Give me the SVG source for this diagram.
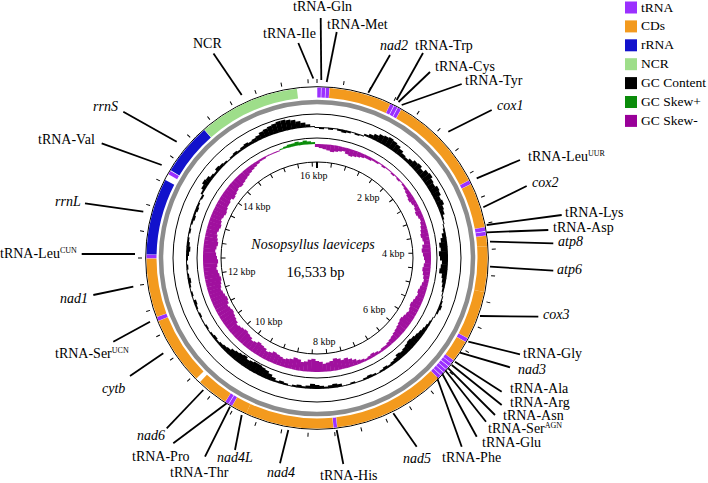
<svg xmlns="http://www.w3.org/2000/svg" xmlns:xlink="http://www.w3.org/1999/xlink" width="708" height="483" viewBox="0 0 708 483">
<style>
text{font-family:"Liberation Serif","Times New Roman",serif;font-size:14px;fill:#000}
text.i{font-style:italic}
.sup{font-size:8px}
text.kb{font-size:10px}
.a{fill:none;stroke-width:10}
.t{stroke:#9b30ff}.c{stroke:#f39a1e}.r{stroke:#1212cc}.n{stroke:#9ede8a}
.ln{stroke:#000;stroke-width:1.8;fill:none}
.ring{fill:none;stroke:#000;stroke-width:1}
</style>
<defs>
<path id="tk" d="M0-96v4.5M0-175v-4"/>
</defs>
<rect width="708" height="483" fill="#fff"/>

<g id="rings">
<circle class="ring" cx="317" cy="258" r="171.3"/>
<circle cx="317" cy="258" r="156" fill="none" stroke="#8c8c8c" stroke-width="4.5"/>
<circle class="ring" cx="317" cy="258" r="144"/>
<circle class="ring" cx="317" cy="258" r="120"/>
<circle class="ring" cx="317" cy="258" r="96"/>
</g>

<g id="gc-content" transform="translate(317 258)" stroke="#000" stroke-width="5" fill="none">
<path transform="rotate(0)" d="M0-131v1"/><path transform="rotate(2)" d="M0-131v2"/><path transform="rotate(4)" d="M0-131v1"/><path transform="rotate(6)" d="M0-131v2"/><path transform="rotate(8)" d="M0-131v1"/>
<path transform="rotate(10)" d="M0-131v2"/><path transform="rotate(12)" d="M0-131v3"/><path transform="rotate(14)" d="M0-131v2"/><path transform="rotate(16)" d="M0-131v1"/><path transform="rotate(18)" d="M0-131v2"/><path transform="rotate(20)" d="M0-131v1"/>
<path transform="rotate(22)" d="M0-131v-2"/><path transform="rotate(24)" d="M0-131v-4"/><path transform="rotate(26)" d="M0-131v-6"/><path transform="rotate(28)" d="M0-131v-8"/><path transform="rotate(30)" d="M0-131v-9"/><path transform="rotate(32)" d="M0-131v-10"/><path transform="rotate(34)" d="M0-131v-9"/><path transform="rotate(36)" d="M0-131v-8"/><path transform="rotate(38)" d="M0-131v-6"/><path transform="rotate(40)" d="M0-131v-4"/><path transform="rotate(42)" d="M0-131v-3"/>
<path transform="rotate(44)" d="M0-131v-5"/><path transform="rotate(46)" d="M0-131v-7"/><path transform="rotate(48)" d="M0-131v-8"/><path transform="rotate(50)" d="M0-131v-6"/><path transform="rotate(52)" d="M0-131v-9"/><path transform="rotate(54)" d="M0-131v-10"/><path transform="rotate(56)" d="M0-131v-8"/><path transform="rotate(58)" d="M0-131v-7"/><path transform="rotate(60)" d="M0-131v-9"/><path transform="rotate(62)" d="M0-131v-8"/><path transform="rotate(64)" d="M0-131v-6"/><path transform="rotate(66)" d="M0-131v-7"/><path transform="rotate(68)" d="M0-131v-5"/><path transform="rotate(70)" d="M0-131v-4"/>
<path transform="rotate(72)" d="M0-131v-2"/><path transform="rotate(74)" d="M0-131v-1"/><path transform="rotate(76)" d="M0-131v1"/><path transform="rotate(78)" d="M0-131v2"/>
<path transform="rotate(80)" d="M0-131v4"/><path transform="rotate(82)" d="M0-131v6"/><path transform="rotate(84)" d="M0-131v8"/><path transform="rotate(86)" d="M0-131v7"/><path transform="rotate(88)" d="M0-131v9"/><path transform="rotate(90)" d="M0-131v8"/><path transform="rotate(92)" d="M0-131v6"/><path transform="rotate(94)" d="M0-131v7"/><path transform="rotate(96)" d="M0-131v8"/><path transform="rotate(98)" d="M0-131v5"/><path transform="rotate(100)" d="M0-131v4"/><path transform="rotate(102)" d="M0-131v3"/><path transform="rotate(104)" d="M0-131v2"/>
<path transform="rotate(106)" d="M0-131v1"/><path transform="rotate(108)" d="M0-131v-1"/><path transform="rotate(110)" d="M0-131v-2"/><path transform="rotate(112)" d="M0-131v-3"/><path transform="rotate(114)" d="M0-131v-2"/><path transform="rotate(116)" d="M0-131v-1"/><path transform="rotate(118)" d="M0-131v1"/><path transform="rotate(120)" d="M0-131v2"/><path transform="rotate(122)" d="M0-131v3"/><path transform="rotate(124)" d="M0-131v4"/>
<path transform="rotate(126)" d="M0-131v5"/><path transform="rotate(128)" d="M0-131v6"/><path transform="rotate(130)" d="M0-131v7"/><path transform="rotate(132)" d="M0-131v8"/><path transform="rotate(134)" d="M0-131v7"/><path transform="rotate(136)" d="M0-131v6"/><path transform="rotate(138)" d="M0-131v5"/><path transform="rotate(140)" d="M0-131v6"/><path transform="rotate(142)" d="M0-131v4"/><path transform="rotate(144)" d="M0-131v3"/>
<path transform="rotate(146)" d="M0-131v2"/><path transform="rotate(148)" d="M0-131v3"/><path transform="rotate(150)" d="M0-131v2"/><path transform="rotate(152)" d="M0-131v1"/><path transform="rotate(154)" d="M0-131v2"/><path transform="rotate(156)" d="M0-131v3"/><path transform="rotate(158)" d="M0-131v2"/><path transform="rotate(160)" d="M0-131v1"/><path transform="rotate(162)" d="M0-131v1"/><path transform="rotate(164)" d="M0-131v2"/><path transform="rotate(166)" d="M0-131v1"/><path transform="rotate(168)" d="M0-131v1"/>
<path transform="rotate(170)" d="M0-131v3"/><path transform="rotate(172)" d="M0-131v4"/><path transform="rotate(174)" d="M0-131v3"/><path transform="rotate(176)" d="M0-131v2"/><path transform="rotate(178)" d="M0-131v3"/><path transform="rotate(180)" d="M0-131v4"/><path transform="rotate(182)" d="M0-131v5"/><path transform="rotate(184)" d="M0-131v3"/><path transform="rotate(186)" d="M0-131v2"/><path transform="rotate(188)" d="M0-131v3"/><path transform="rotate(190)" d="M0-131v2"/><path transform="rotate(192)" d="M0-131v1"/><path transform="rotate(194)" d="M0-131v2"/><path transform="rotate(196)" d="M0-131v3"/><path transform="rotate(198)" d="M0-131v2"/>
<path transform="rotate(200)" d="M0-131v4"/><path transform="rotate(202)" d="M0-131v6"/><path transform="rotate(204)" d="M0-131v8"/><path transform="rotate(206)" d="M0-131v9"/><path transform="rotate(208)" d="M0-131v10"/><path transform="rotate(210)" d="M0-131v10"/><path transform="rotate(212)" d="M0-131v9"/><path transform="rotate(214)" d="M0-131v8"/><path transform="rotate(216)" d="M0-131v10"/><path transform="rotate(218)" d="M0-131v9"/><path transform="rotate(220)" d="M0-131v8"/><path transform="rotate(222)" d="M0-131v7"/><path transform="rotate(224)" d="M0-131v5"/><path transform="rotate(226)" d="M0-131v4"/><path transform="rotate(228)" d="M0-131v3"/><path transform="rotate(230)" d="M0-131v2"/><path transform="rotate(232)" d="M0-131v3"/><path transform="rotate(234)" d="M0-131v2"/><path transform="rotate(236)" d="M0-131v1"/><path transform="rotate(238)" d="M0-131v2"/><path transform="rotate(240)" d="M0-131v1"/>
<path transform="rotate(242)" d="M0-131v1"/><path transform="rotate(244)" d="M0-131v2"/><path transform="rotate(246)" d="M0-131v1"/><path transform="rotate(248)" d="M0-131v2"/><path transform="rotate(250)" d="M0-131v3"/><path transform="rotate(252)" d="M0-131v1"/><path transform="rotate(254)" d="M0-131v2"/><path transform="rotate(256)" d="M0-131v1"/><path transform="rotate(258)" d="M0-131v2"/><path transform="rotate(260)" d="M0-131v3"/><path transform="rotate(262)" d="M0-131v2"/><path transform="rotate(264)" d="M0-131v1"/><path transform="rotate(266)" d="M0-131v2"/><path transform="rotate(268)" d="M0-131v1"/><path transform="rotate(270)" d="M0-131v2"/><path transform="rotate(272)" d="M0-131v3"/><path transform="rotate(274)" d="M0-131v4"/><path transform="rotate(276)" d="M0-131v3"/><path transform="rotate(278)" d="M0-131v2"/><path transform="rotate(280)" d="M0-131v1"/><path transform="rotate(282)" d="M0-131v2"/><path transform="rotate(284)" d="M0-131v1"/><path transform="rotate(286)" d="M0-131v2"/><path transform="rotate(288)" d="M0-131v3"/><path transform="rotate(290)" d="M0-131v2"/><path transform="rotate(292)" d="M0-131v3"/><path transform="rotate(294)" d="M0-131v2"/><path transform="rotate(296)" d="M0-131v1"/><path transform="rotate(298)" d="M0-131v2"/>
<path transform="rotate(300)" d="M0-131v-2"/><path transform="rotate(302)" d="M0-131v-4"/><path transform="rotate(304)" d="M0-131v-6"/><path transform="rotate(306)" d="M0-131v-5"/><path transform="rotate(308)" d="M0-131v-3"/><path transform="rotate(310)" d="M0-131v-2"/><path transform="rotate(312)" d="M0-131v-4"/><path transform="rotate(314)" d="M0-131v-3"/><path transform="rotate(316)" d="M0-131v-2"/><path transform="rotate(318)" d="M0-131v-1"/>
<path transform="rotate(320)" d="M0-131v-2"/><path transform="rotate(322)" d="M0-131v-3"/><path transform="rotate(324)" d="M0-131v-2"/><path transform="rotate(326)" d="M0-131v-3"/><path transform="rotate(328)" d="M0-131v-4"/><path transform="rotate(330)" d="M0-131v-3"/><path transform="rotate(332)" d="M0-131v-4"/><path transform="rotate(334)" d="M0-131v-5"/><path transform="rotate(336)" d="M0-131v-7"/><path transform="rotate(338)" d="M0-131v-8"/><path transform="rotate(340)" d="M0-131v-9"/><path transform="rotate(342)" d="M0-131v-10"/><path transform="rotate(344)" d="M0-131v-11"/><path transform="rotate(346)" d="M0-131v-11"/><path transform="rotate(348)" d="M0-131v-10"/><path transform="rotate(350)" d="M0-131v-9"/><path transform="rotate(352)" d="M0-131v-7"/><path transform="rotate(354)" d="M0-131v-5"/><path transform="rotate(356)" d="M0-131v-3"/><path transform="rotate(358)" d="M0-131v-1"/>
</g>

<g id="gc-skew-minus" transform="translate(317 258)" stroke="#a0109e" stroke-width="4.2" fill="none">
<path transform="rotate(0)" d="M0-114v3"/><path transform="rotate(2)" d="M0-114v4"/><path transform="rotate(4)" d="M0-114v5"/><path transform="rotate(6)" d="M0-114v6"/><path transform="rotate(8)" d="M0-114v7"/><path transform="rotate(10)" d="M0-114v6"/><path transform="rotate(12)" d="M0-114v5"/><path transform="rotate(14)" d="M0-114v4"/><path transform="rotate(16)" d="M0-114v6"/><path transform="rotate(18)" d="M0-114v7"/><path transform="rotate(20)" d="M0-114v6"/><path transform="rotate(22)" d="M0-114v5"/><path transform="rotate(24)" d="M0-114v4"/><path transform="rotate(26)" d="M0-114v3"/><path transform="rotate(28)" d="M0-114v3"/><path transform="rotate(30)" d="M0-114v2"/>
<path transform="rotate(32)" d="M0-114v2"/><path transform="rotate(34)" d="M0-114v1"/><path transform="rotate(36)" d="M0-114v2"/><path transform="rotate(38)" d="M0-114v1"/><path transform="rotate(40)" d="M0-114v1"/><path transform="rotate(42)" d="M0-114v2"/><path transform="rotate(44)" d="M0-114v1"/><path transform="rotate(46)" d="M0-114v2"/><path transform="rotate(48)" d="M0-114v1"/><path transform="rotate(50)" d="M0-114v2"/>
<path transform="rotate(52)" d="M0-114v3"/><path transform="rotate(54)" d="M0-114v4"/><path transform="rotate(56)" d="M0-114v5"/><path transform="rotate(58)" d="M0-114v6"/><path transform="rotate(60)" d="M0-114v5"/><path transform="rotate(62)" d="M0-114v4"/><path transform="rotate(64)" d="M0-114v5"/><path transform="rotate(66)" d="M0-114v6"/><path transform="rotate(68)" d="M0-114v5"/><path transform="rotate(70)" d="M0-114v4"/>
<path transform="rotate(72)" d="M0-114v5"/><path transform="rotate(74)" d="M0-114v6"/><path transform="rotate(76)" d="M0-114v7"/><path transform="rotate(78)" d="M0-114v8"/><path transform="rotate(80)" d="M0-114v7"/><path transform="rotate(82)" d="M0-114v6"/><path transform="rotate(84)" d="M0-114v8"/><path transform="rotate(86)" d="M0-114v9"/><path transform="rotate(88)" d="M0-114v8"/><path transform="rotate(90)" d="M0-114v7"/><path transform="rotate(92)" d="M0-114v6"/><path transform="rotate(94)" d="M0-114v7"/><path transform="rotate(96)" d="M0-114v8"/><path transform="rotate(98)" d="M0-114v7"/><path transform="rotate(100)" d="M0-114v6"/><path transform="rotate(102)" d="M0-114v5"/><path transform="rotate(104)" d="M0-114v6"/><path transform="rotate(106)" d="M0-114v7"/><path transform="rotate(108)" d="M0-114v8"/><path transform="rotate(110)" d="M0-114v7"/>
<path transform="rotate(112)" d="M0-114v8"/><path transform="rotate(114)" d="M0-114v9"/><path transform="rotate(116)" d="M0-114v10"/><path transform="rotate(118)" d="M0-114v9"/><path transform="rotate(120)" d="M0-114v8"/><path transform="rotate(122)" d="M0-114v9"/><path transform="rotate(124)" d="M0-114v10"/><path transform="rotate(126)" d="M0-114v11"/><path transform="rotate(128)" d="M0-114v10"/><path transform="rotate(130)" d="M0-114v9"/><path transform="rotate(132)" d="M0-114v8"/><path transform="rotate(134)" d="M0-114v7"/><path transform="rotate(136)" d="M0-114v6"/><path transform="rotate(138)" d="M0-114v5"/><path transform="rotate(140)" d="M0-114v4"/><path transform="rotate(142)" d="M0-114v3"/>
<path transform="rotate(144)" d="M0-114v3"/><path transform="rotate(146)" d="M0-114v2"/><path transform="rotate(148)" d="M0-114v3"/><path transform="rotate(150)" d="M0-114v4"/><path transform="rotate(152)" d="M0-114v3"/><path transform="rotate(154)" d="M0-114v2"/><path transform="rotate(156)" d="M0-114v3"/><path transform="rotate(158)" d="M0-114v4"/>
<path transform="rotate(160)" d="M0-114v6"/><path transform="rotate(162)" d="M0-114v8"/><path transform="rotate(164)" d="M0-114v10"/><path transform="rotate(166)" d="M0-114v9"/><path transform="rotate(168)" d="M0-114v11"/><path transform="rotate(170)" d="M0-114v12"/><path transform="rotate(172)" d="M0-114v10"/><path transform="rotate(174)" d="M0-114v9"/><path transform="rotate(176)" d="M0-114v8"/><path transform="rotate(178)" d="M0-114v10"/><path transform="rotate(180)" d="M0-114v11"/><path transform="rotate(182)" d="M0-114v13"/><path transform="rotate(184)" d="M0-114v12"/><path transform="rotate(186)" d="M0-114v10"/><path transform="rotate(188)" d="M0-114v9"/><path transform="rotate(190)" d="M0-114v11"/><path transform="rotate(192)" d="M0-114v12"/><path transform="rotate(194)" d="M0-114v10"/><path transform="rotate(196)" d="M0-114v9"/><path transform="rotate(198)" d="M0-114v8"/>
<path transform="rotate(200)" d="M0-114v9"/><path transform="rotate(202)" d="M0-114v10"/><path transform="rotate(204)" d="M0-114v11"/><path transform="rotate(206)" d="M0-114v9"/><path transform="rotate(208)" d="M0-114v8"/><path transform="rotate(210)" d="M0-114v10"/><path transform="rotate(212)" d="M0-114v11"/><path transform="rotate(214)" d="M0-114v12"/><path transform="rotate(216)" d="M0-114v10"/><path transform="rotate(218)" d="M0-114v9"/><path transform="rotate(220)" d="M0-114v11"/><path transform="rotate(222)" d="M0-114v12"/><path transform="rotate(224)" d="M0-114v13"/><path transform="rotate(226)" d="M0-114v12"/><path transform="rotate(228)" d="M0-114v11"/><path transform="rotate(230)" d="M0-114v10"/>
<path transform="rotate(232)" d="M0-114v12"/><path transform="rotate(234)" d="M0-114v13"/><path transform="rotate(236)" d="M0-114v14"/><path transform="rotate(238)" d="M0-114v15"/><path transform="rotate(240)" d="M0-114v14"/><path transform="rotate(242)" d="M0-114v13"/><path transform="rotate(244)" d="M0-114v15"/><path transform="rotate(246)" d="M0-114v16"/><path transform="rotate(248)" d="M0-114v15"/><path transform="rotate(250)" d="M0-114v14"/><path transform="rotate(252)" d="M0-114v13"/><path transform="rotate(254)" d="M0-114v14"/><path transform="rotate(256)" d="M0-114v15"/><path transform="rotate(258)" d="M0-114v16"/><path transform="rotate(260)" d="M0-114v15"/><path transform="rotate(262)" d="M0-114v14"/><path transform="rotate(264)" d="M0-114v13"/><path transform="rotate(266)" d="M0-114v14"/><path transform="rotate(268)" d="M0-114v15"/><path transform="rotate(270)" d="M0-114v14"/><path transform="rotate(272)" d="M0-114v13"/><path transform="rotate(274)" d="M0-114v12"/><path transform="rotate(276)" d="M0-114v13"/><path transform="rotate(278)" d="M0-114v14"/><path transform="rotate(280)" d="M0-114v13"/><path transform="rotate(282)" d="M0-114v12"/><path transform="rotate(284)" d="M0-114v11"/><path transform="rotate(286)" d="M0-114v12"/><path transform="rotate(288)" d="M0-114v13"/><path transform="rotate(290)" d="M0-114v12"/><path transform="rotate(292)" d="M0-114v11"/><path transform="rotate(294)" d="M0-114v12"/><path transform="rotate(296)" d="M0-114v13"/><path transform="rotate(298)" d="M0-114v12"/><path transform="rotate(300)" d="M0-114v11"/>
<path transform="rotate(302)" d="M0-114v11"/><path transform="rotate(304)" d="M0-114v10"/><path transform="rotate(306)" d="M0-114v12"/><path transform="rotate(308)" d="M0-114v11"/><path transform="rotate(310)" d="M0-114v10"/><path transform="rotate(312)" d="M0-114v9"/><path transform="rotate(314)" d="M0-114v10"/><path transform="rotate(316)" d="M0-114v9"/><path transform="rotate(318)" d="M0-114v8"/><path transform="rotate(320)" d="M0-114v7"/><path transform="rotate(322)" d="M0-114v6"/><path transform="rotate(324)" d="M0-114v5"/><path transform="rotate(326)" d="M0-114v4"/><path transform="rotate(328)" d="M0-114v3"/><path transform="rotate(330)" d="M0-114v2"/>
<path transform="rotate(332)" d="M0-114v2"/><path transform="rotate(334)" d="M0-114v1"/><path transform="rotate(336)" d="M0-114v1"/><path transform="rotate(338)" d="M0-114v1"/><path transform="rotate(340)" d="M0-114v1"/>
</g>
<g id="gc-skew-plus" transform="translate(317 258)" stroke="#0a8c0a" stroke-width="4.2" fill="none">
<path transform="rotate(342)" d="M0-114v-1"/><path transform="rotate(344)" d="M0-114v-2"/><path transform="rotate(346)" d="M0-114v-3"/><path transform="rotate(348)" d="M0-114v-3"/><path transform="rotate(350)" d="M0-114v-4"/><path transform="rotate(352)" d="M0-114v-3"/><path transform="rotate(354)" d="M0-114v-4"/><path transform="rotate(356)" d="M0-114v-3"/><path transform="rotate(358)" d="M0-114v-2"/>
</g>

<g id="ticks" transform="translate(317 258)" stroke="#000" stroke-width="1" fill="none">
<use xlink:href="#tk" href="#tk"/><use href="#tk" transform="rotate(8.71)"/><use href="#tk" transform="rotate(17.42)"/><use href="#tk" transform="rotate(26.13)"/><use href="#tk" transform="rotate(34.84)"/><use href="#tk" transform="rotate(43.55)"/><use href="#tk" transform="rotate(52.26)"/><use href="#tk" transform="rotate(60.97)"/><use href="#tk" transform="rotate(69.68)"/><use href="#tk" transform="rotate(78.39)"/><use href="#tk" transform="rotate(87.1)"/><use href="#tk" transform="rotate(95.81)"/><use href="#tk" transform="rotate(104.52)"/><use href="#tk" transform="rotate(113.23)"/><use href="#tk" transform="rotate(121.94)"/><use href="#tk" transform="rotate(130.65)"/><use href="#tk" transform="rotate(139.36)"/><use href="#tk" transform="rotate(148.07)"/><use href="#tk" transform="rotate(156.78)"/><use href="#tk" transform="rotate(165.49)"/><use href="#tk" transform="rotate(174.2)"/><use href="#tk" transform="rotate(182.91)"/><use href="#tk" transform="rotate(191.62)"/><use href="#tk" transform="rotate(200.33)"/><use href="#tk" transform="rotate(209.04)"/><use href="#tk" transform="rotate(217.75)"/><use href="#tk" transform="rotate(226.46)"/><use href="#tk" transform="rotate(235.17)"/><use href="#tk" transform="rotate(243.88)"/><use href="#tk" transform="rotate(252.59)"/><use href="#tk" transform="rotate(261.3)"/><use href="#tk" transform="rotate(270.01)"/><use href="#tk" transform="rotate(278.72)"/><use href="#tk" transform="rotate(287.43)"/><use href="#tk" transform="rotate(296.14)"/><use href="#tk" transform="rotate(304.85)"/><use href="#tk" transform="rotate(313.56)"/><use href="#tk" transform="rotate(322.26)"/><use href="#tk" transform="rotate(330.97)"/><use href="#tk" transform="rotate(339.68)"/><use href="#tk" transform="rotate(348.39)"/><use href="#tk" transform="rotate(357.1)"/>
<path d="M0-96v6" stroke-width="2"/>
</g>

<g id="scale-labels">
<text class="kb" x="300" y="179">16 kbp</text>
<text class="kb" x="357" y="201">2 kbp</text>
<text class="kb" x="243" y="210">14 kbp</text>
<text class="kb" x="382" y="257">4 kbp</text>
<text class="kb" x="228" y="275">12 kbp</text>
<text class="kb" x="363" y="313">6 kbp</text>
<text class="kb" x="255" y="325">10 kbp</text>
<text class="kb" x="313" y="345">8 kbp</text>
</g>

<g id="title">
<text class="i" x="313" y="249" text-anchor="middle">Nosopsyllus laeviceps</text>
<text x="315.5" y="277" text-anchor="middle" style="font-size:14.5px">16,533 bp</text>
</g>

<g id="connectors" class="ln">
<path d="M320.7 18L321.3 80"/>
<path d="M336.7 32L326.7 82"/>
<path d="M298.3 43L313.3 78.5"/>
<path d="M213.5 53.5L241.7 95"/>
<path d="M390 55L368.3 92.7"/>
<path d="M423 53L396.7 100"/>
<path d="M430 72L398.5 102"/>
<path d="M461.7 84L401.7 105"/>
<path d="M491.7 110L448.3 131.7"/>
<path d="M520 160L476.7 178.3"/>
<path d="M526.7 186L483.3 207.3"/>
<path d="M561.7 215L486.7 225"/>
<path d="M548.3 230L486.7 232.3"/>
<path d="M553.3 243.3L490 241.7"/>
<path d="M553.3 270.7L490 266.7"/>
<path d="M538.3 316.7L480 316"/>
<path d="M520 354.3L468.3 341.7"/>
<path d="M510 367.3L460 352.7"/>
<path d="M501.7 391.7L455 361.7"/>
<path d="M501.7 405L451.7 365"/>
<path d="M495 415L448.3 368.3"/>
<path d="M486 421.7L445 370"/>
<path d="M476.7 436.7L441.7 372.7"/>
<path d="M461.7 446.7L436.7 376.7"/>
<path d="M416.7 446.7L393.3 413.3"/>
<path d="M343.3 464L336.7 430"/>
<path d="M280 463.3L288.3 430"/>
<path d="M235 450L241.7 415"/>
<path d="M205 456.7L230 406.7"/>
<path d="M173.3 443.3L226.7 403.3"/>
<path d="M166.7 428.3L203.3 390"/>
<path d="M130 376L163.3 353.3"/>
<path d="M113.3 341.7L150 321.7"/>
<path d="M93.3 295L133.3 286.7"/>
<path d="M81.7 254L135 254"/>
<path d="M85 203.3L143.3 211.7"/>
<path d="M101.7 143.3L161.7 165"/>
<path d="M123.3 111.7L176.7 141.7"/>
</g>

<g id="trnI"><circle class="a t" r="165.5" pathLength="360" transform="translate(317 258) rotate(-90)" stroke-dasharray="1.25 400" stroke-dashoffset="-0.1"/><text x="263" y="37.5">tRNA-Ile</text></g>
<g id="trnQ"><circle class="a t" r="165.5" pathLength="360" transform="translate(317 258) rotate(-90)" stroke-dasharray="1.25 400" stroke-dashoffset="-1.55"/><text x="293" y="11">tRNA-Gln</text></g>
<g id="trnM"><circle class="a t" r="165.5" pathLength="360" transform="translate(317 258) rotate(-90)" stroke-dasharray="1.2 400" stroke-dashoffset="-3.0"/><text x="327" y="28.5">tRNA-Met</text></g>
<g id="nad2"><circle class="a c" r="165.5" pathLength="360" transform="translate(317 258) rotate(-90)" stroke-dasharray="21.1 400" stroke-dashoffset="-4.3"/><text class="i" x="380" y="49.5">nad2</text></g>
<g id="trnW"><circle class="a t" r="165.5" pathLength="360" transform="translate(317 258) rotate(-90)" stroke-dasharray="1.2 400" stroke-dashoffset="-25.5"/><text x="415" y="49.5">tRNA-Trp</text></g>
<g id="trnC"><circle class="a t" r="165.5" pathLength="360" transform="translate(317 258) rotate(-90)" stroke-dasharray="1.2 400" stroke-dashoffset="-26.9"/><text x="435" y="70.5">tRNA-Cys</text></g>
<g id="trnY"><circle class="a t" r="165.5" pathLength="360" transform="translate(317 258) rotate(-90)" stroke-dasharray="1.2 400" stroke-dashoffset="-28.3"/><text x="465" y="85">tRNA-Tyr</text></g>
<g id="cox1"><circle class="a c" r="165.5" pathLength="360" transform="translate(317 258) rotate(-90)" stroke-dasharray="33.3 400" stroke-dashoffset="-29.6"/><text class="i" x="497" y="110">cox1</text></g>
<g id="trnL2"><circle class="a t" r="165.5" pathLength="360" transform="translate(317 258) rotate(-90)" stroke-dasharray="1.3 400" stroke-dashoffset="-63.0"/><text x="528" y="160.7">tRNA-Leu<tspan class="sup" dy="-5">UUR</tspan></text></g>
<g id="cox2"><circle class="a c" r="165.5" pathLength="360" transform="translate(317 258) rotate(-90)" stroke-dasharray="15.1 400" stroke-dashoffset="-64.4"/><text class="i" x="532" y="187">cox2</text></g>
<g id="trnK"><circle class="a t" r="165.5" pathLength="360" transform="translate(317 258) rotate(-90)" stroke-dasharray="1.3 400" stroke-dashoffset="-79.6"/><text x="565" y="217">tRNA-Lys</text></g>
<g id="trnD"><circle class="a t" r="165.5" pathLength="360" transform="translate(317 258) rotate(-90)" stroke-dasharray="1.3 400" stroke-dashoffset="-81.1"/><text x="553" y="232">tRNA-Asp</text></g>
<g id="atp8"><circle class="a c" r="165.5" pathLength="360" transform="translate(317 258) rotate(-90)" stroke-dasharray="3.5 400" stroke-dashoffset="-82.5"/><text class="i" x="558" y="245.7">atp8</text></g>
<g id="atp6"><circle class="a c" r="165.5" pathLength="360" transform="translate(317 258) rotate(-90)" stroke-dasharray="15.5 400" stroke-dashoffset="-86"/><text class="i" x="557" y="274">atp6</text></g>
<g id="cox3"><circle class="a c" r="165.5" pathLength="360" transform="translate(317 258) rotate(-90)" stroke-dasharray="16.5 400" stroke-dashoffset="-101.5"/><text class="i" x="543" y="319">cox3</text></g>
<g id="trnG"><circle class="a t" r="165.5" pathLength="360" transform="translate(317 258) rotate(-90)" stroke-dasharray="1.3 400" stroke-dashoffset="-118.1"/><text x="523" y="358.3">tRNA-Gly</text></g>
<g id="nad3"><circle class="a c" r="165.5" pathLength="360" transform="translate(317 258) rotate(-90)" stroke-dasharray="7.3 400" stroke-dashoffset="-119.5"/><text class="i" x="518" y="374">nad3</text></g>
<g id="trnA"><circle class="a t" r="165.5" pathLength="360" transform="translate(317 258) rotate(-90)" stroke-dasharray="1.15 400" stroke-dashoffset="-126.9"/><text x="510" y="392.7">tRNA-Ala</text></g>
<g id="trnR"><circle class="a t" r="165.5" pathLength="360" transform="translate(317 258) rotate(-90)" stroke-dasharray="1.15 400" stroke-dashoffset="-128.2"/><text x="510" y="406.7">tRNA-Arg</text></g>
<g id="trnN"><circle class="a t" r="165.5" pathLength="360" transform="translate(317 258) rotate(-90)" stroke-dasharray="1.15 400" stroke-dashoffset="-129.55"/><text x="503" y="420">tRNA-Asn</text></g>
<g id="trnS1"><circle class="a t" r="165.5" pathLength="360" transform="translate(317 258) rotate(-90)" stroke-dasharray="1.1 400" stroke-dashoffset="-130.9"/><text x="488" y="433.3">tRNA-Ser<tspan class="sup" dy="-5">AGN</tspan></text></g>
<g id="trnE"><circle class="a t" r="165.5" pathLength="360" transform="translate(317 258) rotate(-90)" stroke-dasharray="1.15 400" stroke-dashoffset="-132.2"/><text x="482" y="446.7">tRNA-Glu</text></g>
<g id="trnF"><circle class="a t" r="165.5" pathLength="360" transform="translate(317 258) rotate(-90)" stroke-dasharray="1.15 400" stroke-dashoffset="-133.55"/><text x="442" y="461.7">tRNA-Phe</text></g>
<g id="nad5"><circle class="a c" r="165.5" pathLength="360" transform="translate(317 258) rotate(-90)" stroke-dasharray="38.3 400" stroke-dashoffset="-134.8"/><text class="i" x="403" y="463.3">nad5</text></g>
<g id="trnH"><circle class="a t" r="165.5" pathLength="360" transform="translate(317 258) rotate(-90)" stroke-dasharray="1.2 400" stroke-dashoffset="-173.2"/><text x="320" y="479.5">tRNA-His</text></g>
<g id="nad4"><circle class="a c" r="165.5" pathLength="360" transform="translate(317 258) rotate(-90)" stroke-dasharray="30 400" stroke-dashoffset="-174.5"/><text class="i" x="267" y="476.7">nad4</text></g>
<g id="nad4L"><circle class="a c" r="165.5" pathLength="360" transform="translate(317 258) rotate(-90)" stroke-dasharray="5.3 400" stroke-dashoffset="-204.5"/><text class="i" x="217" y="461.7">nad4L</text></g>
<g id="trnT"><circle class="a t" r="165.5" pathLength="360" transform="translate(317 258) rotate(-90)" stroke-dasharray="1.2 400" stroke-dashoffset="-209.9"/><text x="170" y="477.3">tRNA-Thr</text></g>
<g id="trnP"><circle class="a t" r="165.5" pathLength="360" transform="translate(317 258) rotate(-90)" stroke-dasharray="1.2 400" stroke-dashoffset="-211.3"/><text x="132" y="460.7">tRNA-Pro</text></g>
<g id="nad6"><circle class="a c" r="165.5" pathLength="360" transform="translate(317 258) rotate(-90)" stroke-dasharray="10.7 400" stroke-dashoffset="-212.6"/><text class="i" x="137" y="440">nad6</text></g>
<g id="cytb"><circle class="a c" r="165.5" pathLength="360" transform="translate(317 258) rotate(-90)" stroke-dasharray="23.3 400" stroke-dashoffset="-225"/><text class="i" x="102" y="393.3">cytb</text></g>
<g id="trnS2"><circle class="a t" r="165.5" pathLength="360" transform="translate(317 258) rotate(-90)" stroke-dasharray="1.3 400" stroke-dashoffset="-248.4"/><text x="55" y="358.3">tRNA-Ser<tspan class="sup" dy="-5">UCN</tspan></text></g>
<g id="nad1"><circle class="a c" r="165.5" pathLength="360" transform="translate(317 258) rotate(-90)" stroke-dasharray="20 400" stroke-dashoffset="-249.8"/><text class="i" x="60" y="303.3">nad1</text></g>
<g id="trnL1"><circle class="a t" r="165.5" pathLength="360" transform="translate(317 258) rotate(-90)" stroke-dasharray="1.3 400" stroke-dashoffset="-269.9"/><text x="0" y="258.3">tRNA-Leu<tspan class="sup" dy="-5">CUN</tspan></text></g>
<g id="rrnL"><circle class="a r" r="165.5" pathLength="360" transform="translate(317 258) rotate(-90)" stroke-dasharray="25.9 400" stroke-dashoffset="-271.3"/><text class="i" x="55" y="205.7">rrnL</text></g>
<g id="trnV"><circle class="a t" r="165.5" pathLength="360" transform="translate(317 258) rotate(-90)" stroke-dasharray="1.3 400" stroke-dashoffset="-299.4"/><text x="38" y="144">tRNA-Val</text></g>
<g id="rrnS"><circle class="a r" r="165.5" pathLength="360" transform="translate(317 258) rotate(-90)" stroke-dasharray="17.65 400" stroke-dashoffset="-300.95"/><text class="i" x="93" y="110.7">rrnS</text></g>
<g id="ncr"><circle class="a n" r="165.5" pathLength="360" transform="translate(317 258) rotate(-90)" stroke-dasharray="34.45 400" stroke-dashoffset="-318.75"/><text x="193" y="47.5">NCR</text></g>

<g id="legend">
<rect x="625" y="1.5" width="12" height="12" fill="#9b30ff"/><text x="641" y="11.5" style="font-size:13.5px">tRNA</text>
<rect x="625" y="20.4" width="12" height="12" fill="#f39a1e"/><text x="641" y="30.4" style="font-size:13.5px">CDs</text>
<rect x="625" y="39.3" width="12" height="12" fill="#1212cc"/><text x="641" y="49.3" style="font-size:13.5px">rRNA</text>
<rect x="625" y="58.2" width="12" height="12" fill="#9ede8a"/><text x="641" y="68.2" style="font-size:13.5px">NCR</text>
<rect x="625" y="77.1" width="12" height="12" fill="#000"/><text x="641" y="87.1" style="font-size:13.5px">GC Content</text>
<rect x="625" y="96" width="12" height="12" fill="#0a8c0a"/><text x="641" y="106" style="font-size:13.5px">GC Skew+</text>
<rect x="625" y="114.9" width="12" height="12" fill="#990099"/><text x="641" y="124.9" style="font-size:13.5px">GC Skew-</text>
</g>
</svg>
